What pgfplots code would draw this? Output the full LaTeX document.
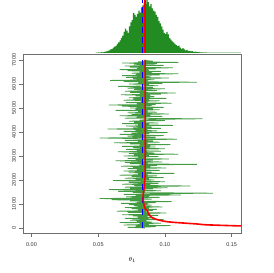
\documentclass[border=0pt]{standalone}
\usepackage{pgfplots}
\pgfplotsset{compat=1.18}
\usepackage{fontspec}
\setmainfont{Liberation Sans}
\definecolor{tracegreen}{RGB}{34,139,34}
\definecolor{boxgray}{RGB}{110,110,110}
\begin{document}
\begin{tikzpicture}[x=1pt,y=1pt]
\path[use as bounding box] (0,0) rectangle (273,273);
\begin{axis}[at={(23.5pt,40pt)}, anchor=south west, scale only axis,
  width=217.5pt, height=179pt,
  xmin=-0.006, xmax=0.157, ymin=-210, ymax=7250,
  axis line style={boxgray, line width=0.8pt},
  xtick={0,0.05,0.1,0.15}, xticklabels={0.00,0.05,0.10,0.15},
  ytick={0,1000,2000,3000,4000,5000,6000,7000},
  yticklabels={0,1000,2000,3000,4000,5000,6000,7000},
  tick align=outside, tick style={boxgray, line width=0.6pt}, major tick length=4pt,
  xtick pos=bottom, ytick pos=left,
  yticklabel style={rotate=90, anchor=south, font=\fontsize{5.5}{6}\selectfont, text=black!80},
  xticklabel style={font=\fontsize{5.5}{6}\selectfont, text=black!80, yshift=-2pt},
  xlabel={$\theta_1$}, xlabel style={at={(axis description cs:0.5,0)}, anchor=center, yshift=-27pt, font=\fontsize{6}{7}\selectfont},
  clip=true]
\addplot[tracegreen!85!white, line width=0.75pt, line join=bevel] table[header=false, row sep=\\, x index=0, y expr=\coordindex*25] {
0.085\\0.072\\0.093\\0.078\\0.104\\0.069\\0.088\\0.081\\0.097\\0.066\\0.090\\0.079\\0.086\\0.074\\0.099\\0.083\\0.070\\0.092\\0.080\\0.087\\
0.076\\0.095\\0.068\\0.089\\0.083\\0.101\\0.072\\0.086\\0.064\\0.091\\0.080\\0.094\\0.075\\0.088\\0.070\\0.098\\0.082\\0.077\\0.090\\0.073\\
0.087\\0.067\\0.093\\0.079\\0.105\\0.074\\0.084\\0.060\\0.090\\0.051\\0.082\\0.096\\0.071\\0.088\\0.078\\0.112\\0.069\\0.093\\0.136\\0.076\\
0.085\\0.065\\0.097\\0.080\\0.058\\0.091\\0.074\\0.102\\0.070\\0.086\\0.119\\0.077\\0.089\\0.068\\0.095\\0.081\\0.073\\0.100\\0.084\\0.061\\
0.092\\0.078\\0.088\\0.070\\0.099\\0.083\\0.075\\0.094\\0.066\\0.087\\0.080\\0.107\\0.073\\0.090\\0.082\\0.069\\0.096\\0.079\\0.086\\0.072\\
0.101\\0.076\\0.089\\0.067\\0.094\\0.081\\0.124\\0.074\\0.087\\0.070\\0.098\\0.083\\0.063\\0.091\\0.078\\0.103\\0.072\\0.085\\0.080\\0.095\\
0.069\\0.088\\0.077\\0.110\\0.073\\0.092\\0.084\\0.065\\0.097\\0.079\\0.086\\0.071\\0.100\\0.082\\0.076\\0.093\\0.068\\0.089\\0.081\\0.104\\
0.074\\0.087\\0.062\\0.096\\0.080\\0.091\\0.070\\0.085\\0.109\\0.077\\0.051\\0.093\\0.083\\0.072\\0.099\\0.079\\0.066\\0.088\\0.075\\0.102\\
0.082\\0.069\\0.094\\0.078\\0.087\\0.057\\0.097\\0.076\\0.090\\0.083\\0.071\\0.106\\0.080\\0.088\\0.068\\0.095\\0.077\\0.085\\0.073\\0.100\\
0.081\\0.092\\0.128\\0.070\\0.086\\0.079\\0.098\\0.066\\0.089\\0.075\\0.103\\0.082\\0.072\\0.094\\0.080\\0.087\\0.063\\0.096\\0.078\\0.091\\
0.074\\0.099\\0.083\\0.068\\0.090\\0.058\\0.093\\0.079\\0.105\\0.071\\0.087\\0.082\\0.096\\0.069\\0.088\\0.076\\0.101\\0.073\\0.085\\0.092\\
0.078\\0.089\\0.067\\0.097\\0.081\\0.108\\0.074\\0.086\\0.070\\0.094\\0.083\\0.077\\0.100\\0.072\\0.091\\0.079\\0.065\\0.095\\0.084\\0.088\\
0.073\\0.098\\0.080\\0.124\\0.069\\0.087\\0.059\\0.092\\0.082\\0.076\\0.103\\0.071\\0.089\\0.084\\0.068\\0.096\\0.078\\0.110\\0.075\\0.090\\
0.081\\0.097\\0.072\\0.088\\0.066\\0.093\\0.079\\0.106\\0.074\\0.085\\0.070\\0.099\\0.083\\0.077\\0.094\\0.068\\0.110\\0.080\\0.091\\0.086\\
0.084\\
};
\addplot[blue, line width=1.5pt, dash pattern=on 6pt off 6.5pt] coordinates {(0.0831,0) (0.0831,7000)};
\addplot[red, line width=1.6pt, smooth] coordinates {
(0.300,0) (0.180,60) (0.134,125) (0.1238,167) (0.1013,263) (0.0913,404) (0.0883,542)
(0.0876,600) (0.0870,700) (0.0852,800) (0.0842,1000) (0.0836,1200) (0.0838,1450)
(0.0845,1700) (0.0851,2200) (0.0852,3000) (0.0852,4000) (0.0851,5000) (0.0851,6000) (0.0851,7000)};
\end{axis}
\begin{axis}[at={(23.5pt,220pt)}, anchor=south west, scale only axis,
  width=217.5pt, height=53pt, xmin=-0.006, xmax=0.157, ymin=0, ymax=100,
  hide axis, clip=false]
\addplot[ybar interval, fill=tracegreen, draw=none] coordinates {
(0.048,0.5) (0.049,0.5) (0.050,1) (0.051,0.5) (0.052,1.5) (0.053,1) (0.054,2) (0.055,2.5)
(0.056,3) (0.057,4) (0.058,5) (0.059,7) (0.060,8) (0.061,10) (0.062,12) (0.063,14)
(0.064,17) (0.065,20) (0.066,24) (0.067,28) (0.068,33) (0.069,40) (0.070,46) (0.071,42)
(0.072,38) (0.073,50) (0.074,58) (0.075,62) (0.076,75) (0.077,72) (0.078,68) (0.079,74)
(0.080,80) (0.081,76) (0.082,86) (0.083,90) (0.084,95) (0.085,92) (0.086,100) (0.087,96)
(0.088,88) (0.089,92) (0.090,84) (0.091,80) (0.092,78) (0.093,72) (0.094,68) (0.095,60)
(0.096,56) (0.097,50) (0.098,44) (0.099,38) (0.100,36) (0.101,40) (0.102,35) (0.103,28)
(0.104,25) (0.105,22) (0.106,20) (0.107,17) (0.108,15) (0.109,13) (0.110,14) (0.111,10)
(0.112,8) (0.113,9) (0.114,7) (0.115,5) (0.116,6) (0.117,4) (0.118,4) (0.119,3)
(0.120,3.5) (0.121,2) (0.122,2.5) (0.123,2) (0.124,1.5) (0.125,1.5) (0.126,1) (0.127,1)
(0.128,1.2) (0.129,0.8) (0.130,1) (0.131,0.6) (0.132,0.5) (0.133,0.6) (0.134,0.5) (0.135,0.5)
(0.136,0.5) (0.137,0.5) (0.138,0.5) (0.139,0.5) (0.140,0.5) (0.141,0.5) (0.142,0.5) (0.143,0.5)
(0.144,0.5) (0.145,0.5) (0.146,0.5) (0.147,0.5) (0.148,0.5) (0.149,0.5) (0.150,0.5) (0.151,0.5)
(0.152,0.5) (0.153,0.5) (0.154,0.5) (0.155,0.5) (0.156,0.5) (0.157,0)};
\addplot[blue, line width=1.5pt, dash pattern=on 6pt off 4pt] coordinates {(0.0831,0) (0.0831,100)};
\addplot[red, line width=1.2pt] coordinates {(0.0851,0) (0.0851,100)};
\end{axis}
\end{tikzpicture}
\end{document}
